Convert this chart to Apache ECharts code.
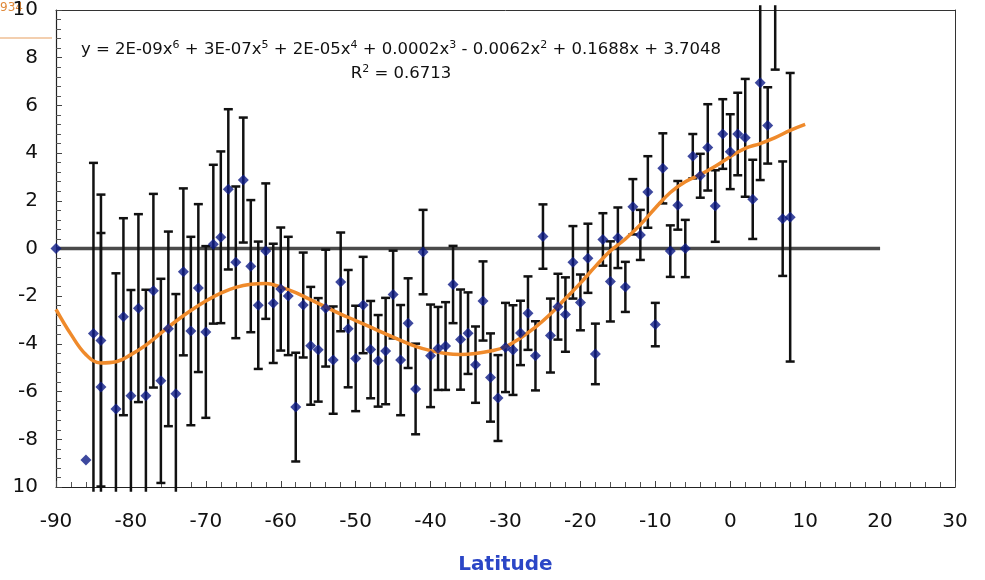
<!DOCTYPE html>
<html><head><meta charset="utf-8">
<script src="https://cdn.jsdelivr.net/npm/echarts/dist/echarts.min.js"></script>
<style>html,body{margin:0;padding:0;background:#fff}#c{width:985px;height:580px}</style>
</head><body><div id="c"></div>
<script>
// ---- data ----
const latitudes = [
  -90,-86,-85,-84,-84,-82,-81,-80,-79,-78,
  -77,-76,-75,-74,-73,-72,-71,-70,-69,-68,
  -67,-66,-65,-64,-63,-62,-61,-60,-59,-58,
  -57,-56,-55,-54,-53,-52,-51,-50,-49,-48,
  -47,-46,-45,-44,-43,-42,-41,-40,-39,-38,
  -37,-36,-35,-34,-33,-32,-31,-30,-29,-28,
  -27,-26,-25,-24,-23,-22,-21,-20,-19,-18,
  -17,-16,-15,-14,-13,-12,-11,-10,-9,-8,
  -7,-6,-5,-4,-3,-2,-1,0,1,2,
  3,4,5,6,7,8
];
const values = [
  0,-8.87,-3.56,-3.86,-5.81,-6.73,-2.86,-6.17,-2.5,-6.17,
  -1.77,-5.55,-3.37,-6.09,-0.98,-3.46,-1.66,-3.5,0.18,0.47,
  2.48,-0.58,2.87,-0.74,-2.38,-0.11,-2.3,-1.7,-1.99,-6.65,
  -2.37,-4.08,-4.25,-2.5,-4.68,-1.4,-3.36,-4.61,-2.37,-4.24,
  -4.71,-4.3,-1.93,-4.68,-3.13,-5.89,-0.15,-4.5,-4.19,-4.09,
  -1.51,-3.82,-3.55,-4.87,-2.2,-5.41,-6.27,-4.15,-4.26,-3.54,
  -2.71,-4.5,0.5,-3.65,-2.44,-2.77,-0.58,-2.26,-0.41,-4.42,
  0.38,-1.38,0.45,-1.61,1.75,0.57,2.37,-3.19,3.36,-0.11,
  1.81,0,3.87,3.05,4.24,1.78,4.8,4.06,4.8,4.64,
  2.06,6.95,5.16,11.5,1.25,1.31
];
const errors = [
  0,0,7.15,6.12,6.46,5.69,4.13,4.43,3.94,4.44,
  4.06,4.28,4.08,4.18,3.5,3.95,3.52,3.6,3.33,3.6,
  3.36,3.18,2.62,2.77,2.67,2.84,2.5,2.58,2.48,2.28,
  2.2,2.47,2.17,2.45,2.25,2.07,2.46,2.21,2.02,2.04,
  1.92,2.23,1.84,2.31,1.88,1.9,1.77,2.15,1.74,1.84,
  1.62,2.1,1.71,1.6,1.66,1.85,1.8,1.87,1.88,1.35,
  1.54,1.45,1.35,1.55,1.38,1.56,1.52,1.17,1.45,1.27,
  1.1,1.68,1.27,1.05,1.16,1.05,1.5,0.91,1.47,1.08,
  1.02,1.2,0.93,0.92,1.81,1.5,1.46,1.57,1.73,2.47,
  1.66,4.08,1.6,4.0,2.4,6.05
];
// polynomial trend line
const trendLat = [-90,-88,-86,-84,-82,-80,-78,-76,-74,-72,-70,-68,-66,-64,-62,-60,-58,-56,-54,-52,-50,-48,-46,-44,-42,-40,-38,-36,-34,-32,-30,-28,-26,-24,-22,-20,-18,-16,-14,-12,-10,-8,-6,-4,-2,0,2,4,6,8,10];
const trendVal = [-2.55,-3.6,-4.45,-4.8,-4.75,-4.45,-4.05,-3.55,-3.05,-2.6,-2.2,-1.87,-1.63,-1.5,-1.47,-1.62,-1.85,-2.15,-2.45,-2.75,-3.02,-3.3,-3.58,-3.85,-4.1,-4.28,-4.4,-4.44,-4.4,-4.3,-4.12,-3.75,-3.3,-2.75,-2.1,-1.45,-0.75,-0.1,0.4,1.0,1.7,2.35,2.8,3.1,3.45,3.85,4.2,4.4,4.65,4.95,5.2];
// zero reference line
const zeroLat = [-90, 20];
const zeroVal = [0, 0];
// axes
const xMin = -90, xMax = 30, xStep = 10;
const yMin = -10, yMax = 10, yStep = 2;
const equationParts = ['y = 2E-09x','6',' + 3E-07x','5',' + 2E-05x','4',' + 0.0002x','3',' - 0.0062x','2',' + 0.1688x + 3.7048'];
const r2Parts = ['R','2',' = 0.6713'];
const xTitle = 'Latitude';

// ---- build ----
const points = latitudes.map((l, i) => [l, values[i], errors[i]]);
const trend = trendLat.map((l, i) => [l, trendVal[i]]);
const zero = zeroLat.map((l, i) => [l, zeroVal[i]]);
function richText(parts) {
  return parts.map((p, i) => (i % 2 === 0 ? '{b|' + p + '}' : '{s|' + p + '}')).join('');
}
const richStyle = {
  b: { fontFamily: 'DejaVu Sans', fontSize: 16.5, fill: '#111', lineHeight: 20 },
  s: { fontFamily: 'DejaVu Sans', fontSize: 11, fill: '#111', lineHeight: 12, verticalAlign: 'top' }
};
const LOW = yMin - 0.2, HIGH = yMax + 0.2;
function renderErr(params, api) {
  const x = api.value(0), v = api.value(1), e = api.value(2);
  if (!e) return null;
  let lo = v - e, hi = v + e;
  const loClip = lo < LOW, hiClip = hi > HIGH;
  lo = Math.max(lo, LOW); hi = Math.min(hi, HIGH);
  const a = api.coord([x, lo]), b = api.coord([x, hi]);
  const half = 4.5;
  const st = { stroke: '#111', lineWidth: 2.5 };
  const ch = [{ type: 'line', shape: { x1: a[0], y1: a[1], x2: b[0], y2: b[1] }, style: st }];
  if (!loClip) ch.push({ type: 'line', shape: { x1: a[0] - half, y1: a[1], x2: a[0] + half, y2: a[1] }, style: st });
  if (!hiClip) ch.push({ type: 'line', shape: { x1: b[0] - half, y1: b[1], x2: b[0] + half, y2: b[1] }, style: st });
  return { type: 'group', children: ch };
}
const frameAxis = { show: true, onZero: false, lineStyle: { color: '#333', width: 1 } };
const chart = echarts.init(document.getElementById('c'), null, { renderer: 'canvas' });
chart.setOption({
  animation: false,
  backgroundColor: '#fff',
  grid: { left: 56, right: 30, top: 8, bottom: 90, containLabel: false },
  xAxis: [{
    type: 'value', min: xMin, max: xMax, interval: xStep,
    axisLine: { onZero: false, lineStyle: { color: '#222', width: 1.2 } },
    axisTick: { inside: true, length: 6, lineStyle: { color: '#444' } },
    minorTick: { show: true, splitNumber: 5, length: 5, lineStyle: { color: '#555' } },
    splitLine: { show: false },
    axisLabel: { fontFamily: 'DejaVu Sans', fontSize: 20, color: '#111', margin: 25 },
    name: xTitle, nameLocation: 'middle', nameGap: 68,
    nameTextStyle: { fontFamily: 'DejaVu Sans', fontWeight: 'bold', fontSize: 20, color: '#2b46c6' }
  }, {
    type: 'value', min: xMin, max: xMax, position: 'top',
    axisLine: frameAxis, axisTick: { show: false }, axisLabel: { show: false }, splitLine: { show: false }
  }],
  yAxis: [{
    type: 'value', min: yMin, max: yMax, interval: yStep, position: 'left',
    axisLine: { show: true, onZero: false, lineStyle: { color: '#222', width: 1.2 } },
    axisTick: { inside: true, length: 6, lineStyle: { color: '#444' } },
    minorTick: { show: true, splitNumber: 5, length: 5, lineStyle: { color: '#555' } },
    splitLine: { show: false },
    axisLabel: { fontFamily: 'DejaVu Sans', fontSize: 20, color: '#111', margin: 18,
      formatter: v => (v === yMin ? String(-v) : String(v)) }
  }, {
    type: 'value', min: yMin, max: yMax, position: 'right',
    axisLine: frameAxis, axisTick: { show: false }, axisLabel: { show: false }, splitLine: { show: false }
  }],
  series: [
    { type: 'line', data: zero, symbol: 'none', lineStyle: { color: '#4a4a4a', width: 3.5 }, z: 1 },
    { type: 'custom', data: points, renderItem: renderErr, z: 2, clip: false },
    { type: 'line', data: trend, smooth: 0.4, symbol: 'none', lineStyle: { color: '#ef8a2b', width: 3.5 }, z: 3 },
    { type: 'scatter', data: points, symbol: 'diamond', symbolSize: 11, clip: true,
      itemStyle: { color: '#0c1a86' }, z: 4 }
  ],
  graphic: [
    { type: 'text', x: 401, y: 50, style: { text: richText(equationParts), rich: richStyle, align: 'center', verticalAlign: 'middle' } },
    { type: 'text', x: 401, y: 74, style: { text: richText(r2Parts), rich: richStyle, align: 'center', verticalAlign: 'middle' } },
    { type: 'text', x: 0, y: 8, style: { text: '934', fontFamily: 'DejaVu Sans', fontSize: 12, fill: '#e0893a', verticalAlign: 'middle' } },
    { type: 'line', shape: { x1: 0, y1: 38, x2: 52, y2: 38 }, style: { stroke: '#e7a060', lineWidth: 1.2 } }
  ]
});
</script></body></html>
